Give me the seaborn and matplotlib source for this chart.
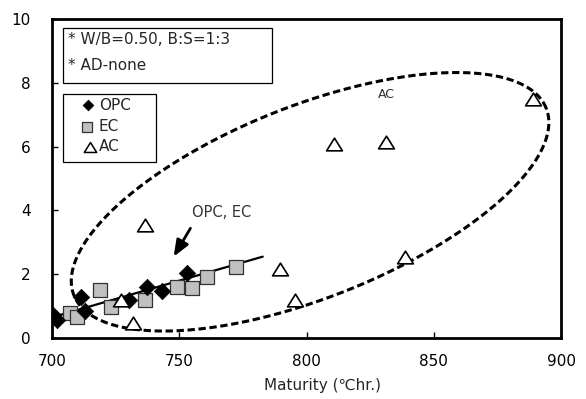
import numpy as np
import pandas as pd
import matplotlib
matplotlib.use("Agg")
import matplotlib.pyplot as plt
import seaborn as sns
from matplotlib.patches import Rectangle
from matplotlib.path import Path

# ---------------- data ----------------
opc_x = [700.5, 701.8, 711.5, 713.1, 730.1, 737.3, 743.2, 753.0]
opc_y = [0.72, 0.56, 1.29, 0.86, 1.19, 1.61, 1.48, 2.03]

ec_x = [707.2, 709.8, 719.0, 723.3, 736.4, 749.1, 755.0, 760.9, 772.4]
ec_y = [0.79, 0.65, 1.50, 0.98, 1.19, 1.61, 1.56, 1.90, 2.24]

ac_x = [727.2, 731.7, 736.7, 789.5, 795.4, 811.0, 831.2, 838.7, 889.1]
ac_y = [1.19, 0.46, 3.54, 2.16, 1.19, 6.08, 6.15, 2.55, 7.48]

fit_x = [700.5, 782.8]
fit_y = [0.66, 2.55]

series_names = ["OPC", "EC", "AC"]
x_ticks = [700, 750, 800, 850, 900]
y_ticks = [0, 2, 4, 6, 8, 10]
note_lines = ["* W/B=0.50, B:S=1:3", "* AD-none"]
x_label = "Maturity (\u2103hr.)"

# ---------------- style ----------------
sns.set_theme(style="ticks")
plt.rcParams["font.family"] = ["DejaVu Sans"]

W, H = 586, 399
fig = plt.figure(figsize=(W / 100, H / 100), dpi=100)
L, R, T, B = 52, 561, 19, 338
ax = fig.add_axes([L / W, (H - B) / H, (R - L) / W, (B - T) / H])

xmin, xmax, ymin, ymax = 700, 900, 0, 10
ax.set_xlim(xmin, xmax)
ax.set_ylim(ymin, ymax)
px_x = (R - L) / (xmax - xmin)
px_y = (B - T) / (ymax - ymin)

tri = Path([(-1, -0.8), (1, -0.8), (0, 0.8), (-1, -0.8)],
           [Path.MOVETO, Path.LINETO, Path.LINETO, Path.CLOSEPOLY])

df_opc = pd.DataFrame({"x": opc_x, "y": opc_y})
df_ec = pd.DataFrame({"x": ec_x, "y": ec_y})
df_ac = pd.DataFrame({"x": ac_x, "y": ac_y})
df_fit = pd.DataFrame({"x": fit_x, "y": fit_y})

# dashed ellipse around AC (defined in pixel space, converted to data)
cx, cy = 801.4, 4.27
a_px, b_px, ang = 254, 96, np.deg2rad(21.6)
t = np.linspace(0, 2 * np.pi, 400)
ex = a_px * np.cos(t) * np.cos(ang) - b_px * np.sin(t) * np.sin(ang)
ey = a_px * np.cos(t) * np.sin(ang) + b_px * np.sin(t) * np.cos(ang)
ax.plot(cx + ex / px_x, cy + ey / px_y, color="black", lw=2.2,
        linestyle=(0, (2.4, 1.2)), zorder=2)

sns.lineplot(data=df_fit, x="x", y="y", ax=ax, color="black", lw=1.6,
             zorder=3, legend=False)

sns.scatterplot(data=df_ec, x="x", y="y", ax=ax, marker="s", s=95,
                color="#c0c0c0", edgecolor="#333333", linewidth=0.9,
                zorder=4, legend=False)
sns.scatterplot(data=df_opc, x="x", y="y", ax=ax, marker="D", s=70,
                color="black", edgecolor="black", linewidth=0.5,
                zorder=5, legend=False)
sns.scatterplot(data=df_ac, x="x", y="y", ax=ax, marker=tri, s=130,
                color="white", edgecolor="black", linewidth=1.2,
                zorder=5, legend=False)

# annotations
ax.text(766.8, 3.92, "OPC, EC", ha="center", va="center", fontsize=10.5,
        color="#333333")
ax.annotate("", xy=(747.8, 2.55), xytext=(754.4, 3.44),
            arrowprops=dict(arrowstyle="-|>,head_length=0.55,head_width=0.22",
                            mutation_scale=18, lw=2, color="black",
                            shrinkA=0, shrinkB=0))
ax.text(831.5, 7.62, "AC", ha="center", va="center", fontsize=9,
        color="#333333")

# axes
ax.set_xticks(x_ticks)
ax.set_yticks(y_ticks)
ax.tick_params(axis="both", direction="in", length=4, width=1,
               labelsize=11, colors="black")
ax.tick_params(axis="y", pad=15.5)
ax.tick_params(axis="x", pad=11.5)
for s in ax.spines.values():
    s.set_visible(True)
    s.set_linewidth(2.0)
    s.set_color("black")
ax.set_ylabel("")
ax.set_xlabel(x_label, fontsize=11,
              family=["DejaVu Sans", "Noto Sans CJK KR"])
ax.xaxis.set_label_coords((323 - L) / (R - L), -(378 - B) / (B - T))


def axf(xp, yp):
    return (xp - L) / (R - L), (B - yp) / (B - T)


# note box
x0, y0 = axf(62.7, 82.7)
x1, y1 = axf(272, 28.3)
ax.add_patch(Rectangle((x0, y0), x1 - x0, y1 - y0, transform=ax.transAxes,
                       fill=True, facecolor="white", edgecolor="black",
                       lw=0.9, zorder=6, clip_on=False))
for line, yp in zip(note_lines, [40, 65]):
    tx, ty = axf(68, yp)
    ax.text(tx, ty, line, transform=ax.transAxes, ha="left", va="center",
            fontsize=11, zorder=7)

# legend box
x0, y0 = axf(62.7, 162.3)
x1, y1 = axf(156, 94.3)
ax.add_patch(Rectangle((x0, y0), x1 - x0, y1 - y0, transform=ax.transAxes,
                       fill=True, facecolor="white", edgecolor="black",
                       lw=0.9, zorder=6, clip_on=False))
leg_y = [105, 126.7, 146.7]
leg_mx = [88.3, 86.7, 90]
leg_style = [dict(marker="D", s=30, color="black", edgecolor="black", linewidth=0.5),
             dict(marker="s", s=60, color="#c0c0c0", edgecolor="#333333", linewidth=0.9),
             dict(marker=tri, s=80, color="white", edgecolor="black", linewidth=1.1)]
for name, yp, mx, st in zip(series_names, leg_y, leg_mx, leg_style):
    mxa, mya = axf(mx, yp)
    ax.scatter([mxa], [mya], transform=ax.transAxes, zorder=8, clip_on=False, **st)
    tx, ty = axf(99, yp)
    ax.text(tx, ty, name, transform=ax.transAxes, ha="left", va="center",
            fontsize=11, zorder=8)

fig.savefig("out.png", dpi=100)
